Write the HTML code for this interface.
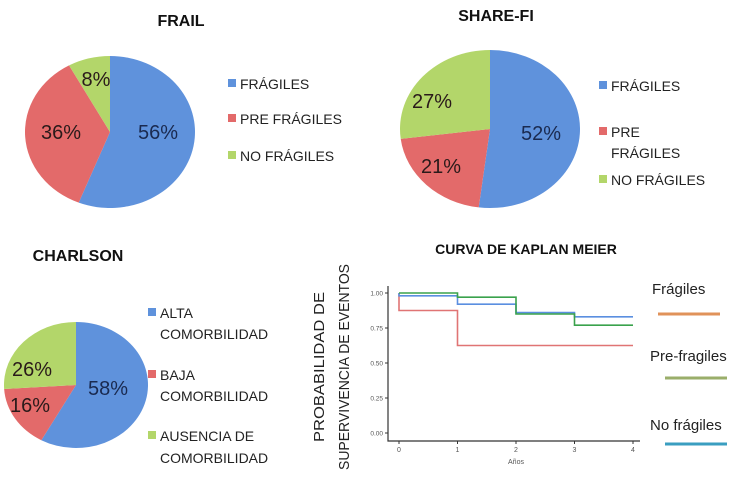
<!DOCTYPE html>
<html><head><meta charset="utf-8"><style>
body{margin:0;background:#fff;}
svg{display:block;font-family:"Liberation Sans","DejaVu Sans",sans-serif;}
</style></head><body>
<svg id="c" width="750" height="477" viewBox="0 0 750 477">
<g id="pies"></g>
<g id="km"></g>
</svg>
<script>
// Pie data
const frailLabels = ["FRÁGILES","PRE FRÁGILES","NO FRÁGILES"];
const frailValues = [56,36,8];
const shareLabels = ["FRÁGILES","PRE FRÁGILES","NO FRÁGILES"];
const shareValues = [52,21,27];
const charlsonLabels = ["ALTA COMORBILIDAD","BAJA COMORBILIDAD","AUSENCIA DE COMORBILIDAD"];
const charlsonValues = [58,16,26];
// KM data
const kmYTicks = [0,0.25,0.5,0.75,1];
const kmYTickLabels = ["0.00","0.25","0.50","0.75","1.00"];
const kmXTicks = [0,1,2,3,4];
const kmTimes = [0,1,2,3,4];
const kmRed = [0.875,0.625,0.625,0.625,0.625];
const kmBlue = [0.98,0.92,0.86,0.83,0.83];
const kmGreen = [1.0,0.97,0.85,0.77,0.77];

const NS="http://www.w3.org/2000/svg";
function mk(tag,attrs,parent,txt){const e=document.createElementNS(NS,tag);for(const k in attrs)e.setAttribute(k,attrs[k]);if(txt!==undefined)e.textContent=txt;parent.appendChild(e);return e;}
const colors=["#5f92dc","#e36a6a","#b3d66a"];
const pies=document.getElementById('pies');

function pie(name,values,cx,cy,rx,ry,labelPos){
  const g=mk('g',{},pies);
  
  
  const tot=values.reduce((a,b)=>a+b,0);
  let a0=0;
  values.forEach((v,i)=>{
    const a1=a0+v/tot*2*Math.PI;
    const x0=cx+rx*Math.sin(a0),y0=cy-ry*Math.cos(a0);
    const x1=cx+rx*Math.sin(a1),y1=cy-ry*Math.cos(a1);
    const large=(a1-a0)>Math.PI?1:0;
    const p=mk('path',{d:`M${cx},${cy}L${x0},${y0}A${rx},${ry} 0 ${large} 1 ${x1},${y1}Z`,fill:colors[i]},g);
    
    
    const t=mk('text',{x:labelPos[i][0],y:labelPos[i][1],'font-size':20,'text-anchor':'middle',fill:i==0?'#1a2a50':'#2a1a1a'},g,v+'%');
    
    
    a0=a1;
  });
}
pie('frail',frailValues,110,132,85,76,[[158,139],[61,139],[96,86]]);
pie('share-fi',shareValues,490,129,90,79,[[541,140],[441,173],[432,108]]);
pie('charlson',charlsonValues,76,385,72,63,[[108,395],[30,412],[32,376]]);

function title(txt,x,y,name,size){const t=mk('text',{x:x,y:y,'font-size':size||15,'font-weight':'bold','text-anchor':'middle',fill:'#111'},pies,txt);}
title('FRAIL',181,26,'frail-title',16);
title('SHARE-FI',496,21,'share-fi-title',16);
title('CHARLSON',78,261,'charlson-title',16);
title('CURVA DE KAPLAN MEIER',526,254,'km-title',14);

function legend(name,items,x,lines){
  items.forEach((it,i)=>{
    const ys=lines[i];
    const r=mk('rect',{x:x,y:ys[0]-10,width:8,height:8,fill:colors[i]},pies);
    
    
    it.forEach((line,j)=>{
      const t=mk('text',{x:x+12,y:ys[j],'font-size':14,fill:'#222'},pies,line);
      
      
    });
  });
}
legend('frail',[["FRÁGILES"],["PRE FRÁGILES"],[" NO FRÁGILES"]],228,[[89],[124],[161]]);
legend('share-fi',[["FRÁGILES"],["PRE","FRÁGILES"],["NO FRÁGILES"]],599,[[91],[137,158],[185]]);
legend('charlson',[["ALTA","COMORBILIDAD"],["BAJA","COMORBILIDAD"],["AUSENCIA DE","COMORBILIDAD"]],148,[[318,339],[380,401],[441,463]]);

// KM chart
const km=document.getElementById('km');
const X=t=>399+t*(633-399)/4;
const Y=v=>433-140*v;
const ax=mk('path',{d:`M388,286L388,441L640,441`,fill:'none',stroke:'#333','stroke-width':1.2},km);

kmYTicks.forEach((v,i)=>{
  mk('line',{x1:385,x2:388,y1:Y(v),y2:Y(v),stroke:'#333'},km);
  const t=mk('text',{x:383,y:Y(v)+2.5,'font-size':6.5,'text-anchor':'end',fill:'#555'},km,kmYTickLabels[i]);
  
});
kmXTicks.forEach(v=>{
  mk('line',{x1:X(v),x2:X(v),y1:441,y2:444,stroke:'#333'},km);
  const t=mk('text',{x:X(v),y:452,'font-size':7,'text-anchor':'middle',fill:'#555'},km,v);
  
});
let t=mk('text',{x:516,y:464,'font-size':7,'text-anchor':'middle',fill:'#555'},km,'Años');

t=mk('text',{transform:'translate(324,367) rotate(-90)','font-size':15,'text-anchor':'middle',fill:'#222',textLength:150,lengthAdjust:'spacingAndGlyphs'},km,'PROBABILIDAD DE');

t=mk('text',{transform:'translate(349,367) rotate(-90)','font-size':15,'text-anchor':'middle',fill:'#222',textLength:206,lengthAdjust:'spacingAndGlyphs'},km,'SUPERVIVENCIA DE EVENTOS');


function step(name,vals,color){
  let d=`M${X(kmTimes[0])},${Y(1)}L${X(kmTimes[0])},${Y(vals[0])}`;
  for(let i=1;i<kmTimes.length;i++){d+=`L${X(kmTimes[i])},${Y(vals[i-1])}L${X(kmTimes[i])},${Y(vals[i])}`;}
  const p=mk('path',{d:d,fill:'none',stroke:color,'stroke-width':1.6},km);
  
}
step('km-red-curve',kmRed,'#e07474');
step('km-blue-curve',kmBlue,'#5b8fe0');
step('km-green-curve',kmGreen,'#3aa24c');

const leg=[["Frágiles",652,294,658,720,314,'#e0925a'],["Pre-fragiles",650,361,665,727,378,'#9aae6a'],["No frágiles",650,430,665,727,444,'#3a9ec0']];
leg.forEach((l,i)=>{
  const tt=mk('text',{x:l[1],y:l[2],'font-size':15,fill:'#222'},km,l[0]);
  
  const ln=mk('line',{x1:l[3],x2:l[4],y1:l[5],y2:l[5],stroke:l[6],'stroke-width':3},km);
  
});
</script>
</body></html>
